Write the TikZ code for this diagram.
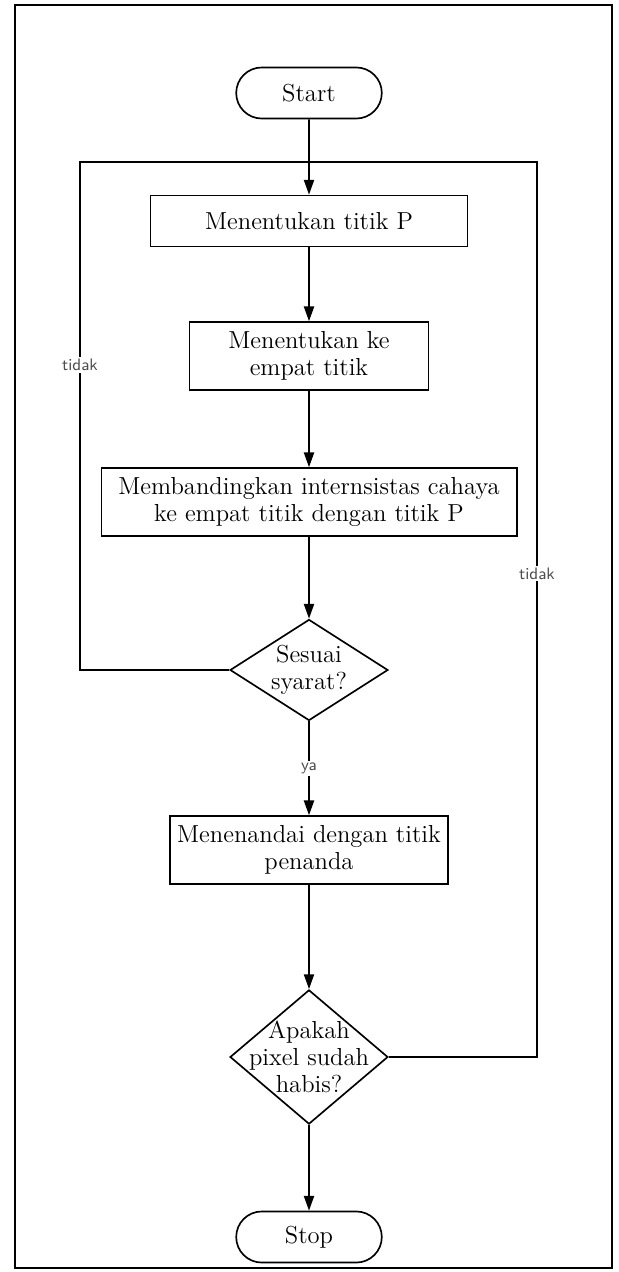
\documentclass[tikz,border=0pt]{standalone}
\usepackage{tikz}
\usetikzlibrary{shapes.geometric,shapes.misc,arrows.meta}

\begin{document}
\begin{tikzpicture}[x=0.019cm, y=-0.019cm, >={Triangle[length=8pt,width=5.5pt]},
	every node/.style={font=\fontsize{13.3}{14.6}\selectfont},
	proses/.style={draw, line width=0.9pt, align=center, minimum height=1.29cm, inner sep=1pt},
	terminal/.style={draw, rounded rectangle, line width=0.9pt, minimum width=3cm, minimum height=0.97cm},
	cabang/.style={draw, diamond, line width=0.9pt, minimum width=3cm, inner sep=0pt},
	ket/.style={font=\sffamily\fontsize{9}{10}\selectfont, text=black!70, fill=white, inner sep=1pt},
	garis/.style={line width=0.9pt}]
	\useasboundingbox (0,0) rectangle (618,1272);
	\draw[line width=1.6pt] (15,5) rectangle (612,1268);

	\node[terminal] (start) at (309,93) {Start};
	\node[proses, minimum width=6.02cm, minimum height=0.97cm] (p1) at (309,221) {Menentukan titik P};
	\node[proses, minimum width=4.54cm] (p2) at (309,356) {Menentukan ke\\empat titik};
	\node[proses, minimum width=7.89cm] (p3) at (309,502) {Membandingkan internsistas cahaya\\ke empat titik dengan titik P};
	\node[cabang, minimum height=1.92cm, label={[align=center]center:Sesuai\\syarat?}] (c1) at (309,670) {};
	\node[proses, minimum width=5.28cm] (p4) at (309,850) {Menenandai dengan titik\\penanda};
	\node[cabang, minimum height=2.55cm, label={[align=center]center:Apakah\\pixel sudah\\habis?}] (c2) at (309,1057) {};
	\node[terminal] (stop) at (309,1237) {Stop};

	\coordinate (ki) at (80,162);
	\coordinate (ka) at (537,162);

	\draw[garis,->] (start) -- (p1);
	\draw[garis,->] (p1) -- (p2);
	\draw[garis,->] (p2) -- (p3);
	\draw[garis,->] (p3) -- (c1);
	\draw[garis,->] (c1) -- node[ket] {ya} (p4);
	\draw[garis,->] (p4) -- (c2);
	\draw[garis,->] (c2) -- (stop);
	\draw[garis] (c1.west) -| node[ket, pos=0.8] {tidak} (ki) -- (ki -| start.south);
	\draw[garis] (c2.east) -| node[ket, pos=0.77] {tidak} (ka) -- (ka -| start.south);
\end{tikzpicture}
\end{document}
